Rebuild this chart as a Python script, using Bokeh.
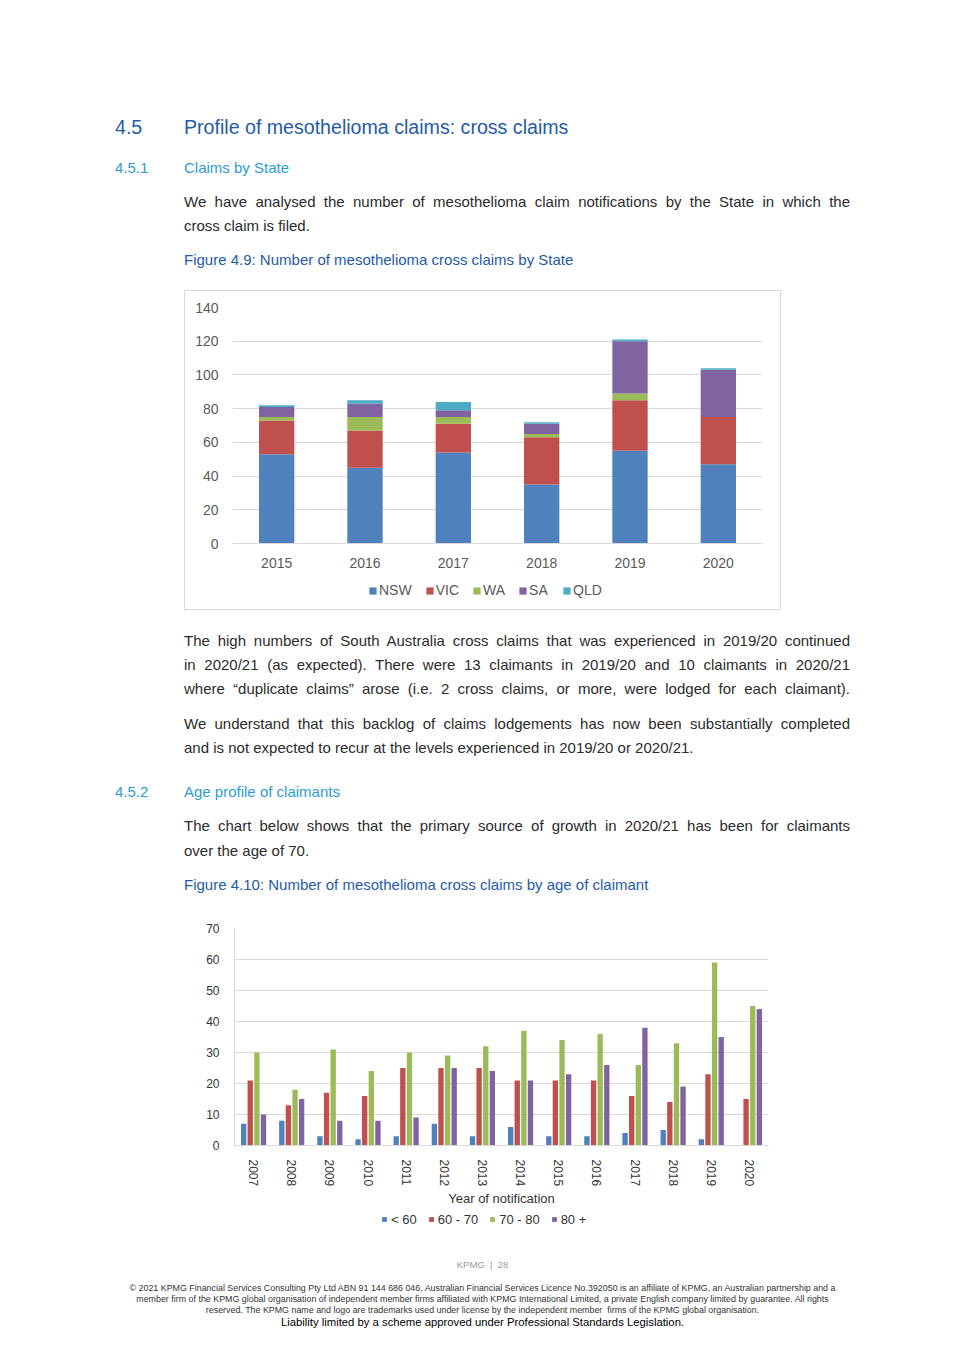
from bokeh.plotting import figure
from bokeh.models import (Div, Spacer, Legend, LegendItem, ColumnDataSource,
                          FactorRange, Range1d, FixedTicker)
from bokeh.layouts import column, row
from bokeh.transform import dodge
from bokeh.embed import file_html
from bokeh.resources import INLINE

# ---------------- data ----------------
years_state = ["2015", "2016", "2017", "2018", "2019", "2020"]
states = ["NSW", "VIC", "WA", "SA", "QLD"]
nsw = [53, 45, 54, 35, 55, 47]
vic = [20, 22, 17, 28, 30, 28]
wa = [2, 8, 4, 2, 4, 0]
sa = [6, 8, 4, 6, 31, 28]
qld = [1, 2, 5, 1, 1, 1]
state_ticks = [0, 20, 40, 60, 80, 100, 120, 140]

years_age = ["2007", "2008", "2009", "2010", "2011", "2012", "2013",
             "2014", "2015", "2016", "2017", "2018", "2019", "2020"]
age_groups = ["< 60", "60 - 70", "70 - 80", "80 +"]
under_60 = [7, 8, 3, 2, 3, 7, 3, 6, 3, 3, 4, 5, 2, 0]
age_60_70 = [21, 13, 17, 16, 25, 25, 25, 21, 21, 21, 16, 14, 23, 15]
age_70_80 = [30, 18, 31, 24, 30, 29, 32, 37, 34, 36, 26, 33, 59, 45]
over_80 = [10, 15, 8, 8, 9, 25, 24, 21, 23, 26, 38, 19, 35, 44]
age_ticks = [0, 10, 20, 30, 40, 50, 60, 70]

BLUE, RED, GREEN, PURPLE, AQUA = "#4F81BD", "#C0504D", "#9BBB59", "#8064A2", "#4BACC6"
state_colors = [BLUE, RED, GREEN, PURPLE, AQUA]
age_colors = [BLUE, RED, GREEN, PURPLE]
HEAD = "#1F5BA8"
SUB = "#2E9BD6"
BODY = "#2b2b2b"
FONT = "'Liberation Sans', Arial, sans-serif"
NARROW = "'Liberation Sans Narrow', 'Liberation Sans', Arial, sans-serif"
PAGE_W = 965

# ---------------- text helpers ----------------
def txt(s, x, yc, top, size, color, font=FONT, justify_to=None, center=False):
    lh = round(size * 1.3)
    t = yc - lh / 2 - top
    base = (f"position:absolute;top:{t:.1f}px;font-size:{size}px;line-height:{lh}px;"
            f"color:{color};font-family:{font};margin:0;padding:0;")
    if center:
        base += f"left:0px;width:{PAGE_W}px;text-align:center;white-space:nowrap;"
    elif justify_to:
        base += (f"left:{x}px;width:{justify_to-x}px;text-align:justify;"
                 "text-align-last:justify;")
    else:
        base += f"left:{x}px;white-space:nowrap;"
    return f'<div style="{base}">{s}</div>'

def block(items, h):
    return (f'<div style="position:relative;width:{PAGE_W}px;height:{h}px;overflow:hidden;margin:0;padding:0;">'
            + "".join(items) + "</div>")

R = 850
top1 = 0
top_items = [
    txt("4.5", 115, 127, top1, 19.6, HEAD),
    txt("Profile of mesothelioma claims: cross claims", 184, 127, top1, 19.6, HEAD),
    txt("4.5.1", 115, 168, top1, 15, SUB),
    txt("Claims by State", 184, 168, top1, 15, SUB),
    txt("We have analysed the number of mesothelioma claim notifications by the State in which the",
        184, 202, top1, 15, BODY, justify_to=R),
    txt("cross claim is filed.", 184, 226, top1, 15, BODY),
    txt("Figure 4.9: Number of mesothelioma cross claims by State", 184, 260, top1, 15, HEAD),
]
div_top = Div(text=block(top_items, 290), width=PAGE_W, height=290, margin=0)

top2 = 610
mid_items = [
    txt("The high numbers of South Australia cross claims that was experienced in 2019/20 continued",
        184, 641, top2, 15, BODY, justify_to=R),
    txt("in 2020/21 (as expected). There were 13 claimants in 2019/20 and 10 claimants in 2020/21",
        184, 665, top2, 15, BODY, justify_to=R),
    txt("where \u201cduplicate claims\u201d arose (i.e. 2 cross claims, or more, were lodged for each claimant).",
        184, 689, top2, 15, BODY, justify_to=R),
    txt("We understand that this backlog of claims lodgements has now been substantially completed",
        184, 724, top2, 15, BODY, justify_to=R),
    txt("and is not expected to recur at the levels experienced in 2019/20 or 2020/21.",
        184, 748, top2, 15, BODY),
    txt("4.5.2", 115, 792, top2, 15, SUB),
    txt("Age profile of claimants", 184, 792, top2, 15, SUB),
    txt("The chart below shows that the primary source of growth in 2020/21 has been for claimants",
        184, 826, top2, 15, BODY, justify_to=R),
    txt("over the age of 70.", 184, 851, top2, 15, BODY),
    txt("Figure 4.10: Number of mesothelioma cross claims by age of claimant", 184, 885, top2, 15, HEAD),
]
div_mid = Div(text=block(mid_items, 305), width=PAGE_W, height=305, margin=0)

top3 = 1228
bot_items = [
    txt("KPMG &nbsp;|&nbsp; 28", 0, 1265, top3, 9.5, "#9a9a9a", center=True),
    txt("\u00a9 2021 KPMG Financial Services Consulting Pty Ltd ABN 91 144 686 046, Australian Financial Services Licence No.392050 is an affiliate of KPMG, an Australian partnership and a",
        0, 1288, top3, 8.9, "#333333", font=NARROW, center=True),
    txt("member firm of the KPMG global organisation of independent member firms affiliated with KPMG International Limited, a private English company limited by guarantee. All rights",
        0, 1299, top3, 8.9, "#333333", font=NARROW, center=True),
    txt("reserved. The KPMG name and logo are trademarks used under license by the independent member&nbsp; firms of the KPMG global organisation.",
        0, 1310, top3, 8.9, "#333333", font=NARROW, center=True),
    txt("Liability limited by a scheme approved under Professional Standards Legislation.",
        0, 1322, top3, 11.3, "#000000", center=True),
]
div_bot = Div(text=block(bot_items, 128), width=PAGE_W, height=128, margin=0)


def legend_fig(labels, colors, w, h, loc, font_size, glyph, label_h, standoff, spacing, color):
    # legend-only strip; its swatch renderers hold one zero-height bar outside the view
    lf = figure(width=w, height=h, x_range=Range1d(0, 1), y_range=Range1d(0, 1),
                output_backend="svg", toolbar_location=None, x_axis_type=None,
                y_axis_type=None, min_border=0, margin=0)
    lf.outline_line_color = None
    lf.grid.visible = False
    swatch = ColumnDataSource(dict(x=[-5.0], top=[0.0]))
    items = []
    for lab, col in zip(labels, colors):
        r = lf.vbar(x="x", top="top", width=0.1, color=col, line_width=0, source=swatch)
        items.append(LegendItem(label=lab, renderers=[r]))
    lg = Legend(items=items, orientation="horizontal", location=loc)
    lg.border_line_color = None
    lg.background_fill_alpha = 0
    lg.label_text_font = "Liberation Sans"
    lg.label_text_font_size = font_size
    lg.label_text_color = color
    lg.glyph_width = glyph
    lg.glyph_height = glyph
    lg.label_height = label_h
    lg.label_standoff = standoff
    lg.spacing = spacing
    lg.padding = 0
    lg.margin = 0
    lf.add_layout(lg)
    return lf

# ---------------- chart 1: stacked by state ----------------
src1 = ColumnDataSource(dict(years=years_state, NSW=nsw, VIC=vic, WA=wa, SA=sa, QLD=qld))
p1 = figure(x_range=FactorRange(factors=years_state), y_range=Range1d(0, 140),
            width=595, height=280, output_backend="svg", toolbar_location=None,
            min_border_left=47, min_border_right=18, min_border_top=16, min_border_bottom=28,
            margin=0)
p1.vbar_stack(states, x="years", width=0.4, color=state_colors, source=src1, line_width=0)
p1.outline_line_color = None
p1.xgrid.grid_line_color = None
p1.ygrid.grid_line_color = "#d9d9d9"
p1.yaxis.ticker = FixedTicker(ticks=state_ticks)
p1.yaxis.axis_line_color = None
p1.yaxis.major_tick_line_color = None
p1.yaxis.minor_tick_line_color = None
p1.yaxis.major_label_standoff = 8
p1.xaxis.axis_line_color = "#d9d9d9"
p1.xaxis.major_tick_line_color = None
p1.xaxis.major_label_standoff = 8
for ax in (p1.xaxis[0], p1.yaxis[0]):
    ax.major_label_text_font = "Liberation Sans"
    ax.major_label_text_font_size = "14px"
    ax.major_label_text_color = "#595959"
# the column aligns this strip's frame with the chart frame (47px inset)
leg1 = legend_fig(states, state_colors, 595, 38, (136, 9), "14px", 9, 20, 2, 13, "#595959")
chart1 = column(p1, leg1, spacing=0, margin=0,
                styles={"border": "1px solid #d9d9d9"})

# ---------------- chart 2: grouped by age ----------------
src2 = ColumnDataSource(dict(years=years_age, a=under_60, b=age_60_70, c=age_70_80, d=over_80))
p2 = figure(x_range=FactorRange(factors=years_age), y_range=Range1d(0, 70),
            width=578, height=294, output_backend="svg", toolbar_location=None,
            min_border_left=34, min_border_right=10, min_border_top=13, min_border_bottom=52,
            margin=0)
offsets = [-0.26, -0.087, 0.087, 0.26]
for off, c, col in zip(offsets, ["a", "b", "c", "d"], age_colors):
    p2.vbar(x=dodge("years", off, range=p2.x_range), top=c, width=0.14,
            color=col, line_width=0, source=src2)
p2.outline_line_color = None
p2.xgrid.grid_line_color = None
p2.ygrid.grid_line_color = "#d9d9d9"
p2.yaxis.ticker = FixedTicker(ticks=age_ticks)
p2.yaxis.axis_line_color = "#d9d9d9"
p2.yaxis.major_tick_line_color = None
p2.yaxis.minor_tick_line_color = None
p2.yaxis.major_label_standoff = 9
p2.xaxis.axis_line_color = "#d9d9d9"
p2.xaxis.major_tick_line_color = None
p2.xaxis.major_label_standoff = 8
p2.xaxis.major_label_orientation = "vertical"
p2.xaxis.axis_label = "Year of notification"
p2.xaxis.axis_label_standoff = 2
p2.xaxis.axis_label_text_font = "Liberation Sans"
p2.xaxis.axis_label_text_font_size = "13px"
p2.xaxis.axis_label_text_font_style = "normal"
p2.xaxis.axis_label_text_color = "#333333"
for ax in (p2.xaxis[0], p2.yaxis[0]):
    ax.major_label_text_font = "Liberation Sans"
    ax.major_label_text_font_size = "12px"
    ax.major_label_text_color = "#333333"
leg2 = legend_fig(age_groups, age_colors, 578, 19, (147, 0), "13px", 6, 18, 4, 11, "#333333")
chart2 = column(p2, leg2, spacing=0, margin=0)

layout = column(
    div_top,
    row(Spacer(width=184, height=320, margin=0), chart1, spacing=0, margin=0),
    div_mid,
    row(Spacer(width=200, height=313, margin=0), chart2, spacing=0, margin=0),
    div_bot,
    spacing=0, margin=0,
)

with open("out.html", "w", encoding="utf-8") as f:
    f.write(file_html(layout, INLINE))
